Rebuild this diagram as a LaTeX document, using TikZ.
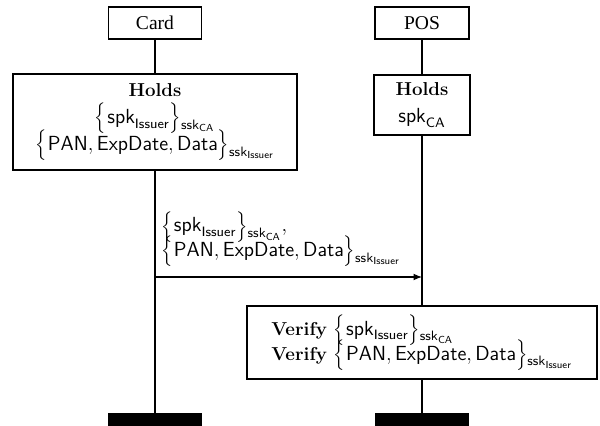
\documentclass[tikz,border=0pt]{standalone}
\usepackage{fontspec}
\newfontfamily\tmsfont{Liberation Serif}
\usetikzlibrary{arrows.meta}
\newdimen\pxu
\pxu=0.588pt
\newcommand{\sfm}[1]{\mathsf{#1}}
\newcommand{\bld}[1]{{\fontsize{11}{13}\selectfont\textbf{#1}}}
\newcommand{\sbs}[1]{{}_{\lower1.6pt\hbox{$\scriptstyle #1$}}}
\newcommand{\sigA}{$\Bigl\{\mkern1mu\sfm{spk}_{\sfm{Issuer}}\Bigr\}\sbs{\sfm{ssk}_{\sfm{CA}}}$}
\newcommand{\sigB}{$\Bigl\{\mkern1mu\sfm{PAN},\sfm{ExpDate},\sfm{Data}\Bigr\}\sbs{\sfm{ssk}_{\sfm{Issuer}}}$}
\newcommand{\txtfont}{\fontsize{12}{15.8}\selectfont\lineskiplimit=-30pt\relax}
\begin{document}
\begin{tikzpicture}[x=\pxu,y=-\pxu,
  actor/.style={draw,line width=0.6pt,fill=white,inner sep=0pt,font=\tmsfont\fontsize{11.5}{13}\selectfont},
  actbox/.style={draw,line width=0.6pt,fill=white,inner sep=2pt,align=center,font=\txtfont},
  lifeline/.style={line width=1.1pt},
  endbar/.style={fill=black,draw=none,inner sep=0pt,minimum width=94\pxu,minimum height=13\pxu,anchor=north},
  msg/.style={line width=0.6pt,-{Latex[length=5pt,width=4pt]}}]
\useasboundingbox (0,0) rectangle (600,426);
% actors
\node[actor,minimum width=93\pxu,minimum height=32\pxu] (card) at (155,23) {Card};
\node[actor,minimum width=94\pxu,minimum height=32\pxu] (pos) at (422,23) {POS};
% end bars
\node[endbar] (cardend) at (155,413) {};
\node[endbar] (posend) at (422,413) {};
% lifelines
\draw[lifeline] (card.south) -- (cardend.north);
\draw[lifeline] (pos.south) -- (posend.north);
% holds boxes
\node[actbox,minimum width=284\pxu,minimum height=96\pxu] (cholds) at (155,122) {%
  \bld{Holds}\\ \sigA\\ \sigB};
\node[actbox,minimum width=96\pxu,minimum height=60\pxu] (pholds) at (422,105) {%
  \bld{Holds}\\ $\sfm{spk}_{\sfm{CA}}$};
% message
\coordinate (m1) at (155,277);
\coordinate (m2) at (422,277);
\draw[msg] (m1) -- (m2) node[pos=0,anchor=north west,align=left,inner sep=0pt,xshift=6\pxu,yshift=66\pxu,font={\fontsize{12}{14.4}\selectfont\lineskiplimit=-30pt\relax}] (msglabel) {%
  \sigA,\\ \sigB};
% verify box
\node[actbox,align=left,minimum width=350\pxu,minimum height=73\pxu,font={\fontsize{12}{14.8}\selectfont\lineskiplimit=-30pt\relax}] (verify) at (422,342.5) {%
  \bld{Verify} \sigA\\
  \bld{Verify} \sigB};
\end{tikzpicture}
\end{document}
